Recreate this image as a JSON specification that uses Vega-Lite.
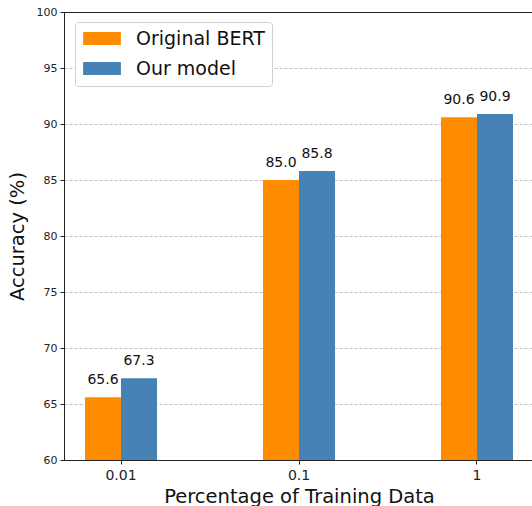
{
  "$schema": "https://vega.github.io/schema/vega-lite/v6.json",
  "autosize": "none",
  "padding": {"left": 64, "top": 12, "right": 0, "bottom": 46},
  "width": 470,
  "height": 448,
  "config": {
    "font": "DejaVu Sans",
    "view": {"stroke": "#222", "strokeWidth": 1},
    "axis": {"domainColor": "#222", "tickColor": "#222", "labelColor": "#222", "titleColor": "#111", "titleFontWeight": "normal"}
  },
  "data": {
    "values": [
      {"pct": "0.01", "model": "Original BERT", "acc": 65.6, "label": "65.6"},
      {"pct": "0.01", "model": "Our model", "acc": 67.3, "label": "67.3"},
      {"pct": "0.1", "model": "Original BERT", "acc": 85.0, "label": "85.0"},
      {"pct": "0.1", "model": "Our model", "acc": 85.8, "label": "85.8"},
      {"pct": "1", "model": "Original BERT", "acc": 90.6, "label": "90.6"},
      {"pct": "1", "model": "Our model", "acc": 90.9, "label": "90.9"}
    ]
  },
  "encoding": {
    "x": {
      "field": "pct", "type": "nominal", "sort": ["0.01", "0.1", "1"],
      "scale": {"paddingInner": 0.5955, "paddingOuter": 0.118},
      "axis": {"title": "Percentage of Training Data", "titleFontSize": 19.5, "titlePadding": 5, "labelFontSize": 14, "labelAngle": 0, "labelPadding": 4, "tickSize": 4, "grid": false}
    },
    "xOffset": {"field": "model", "type": "nominal", "sort": ["Original BERT", "Our model"], "scale": {"paddingInner": 0, "paddingOuter": 0}},
    "y": {
      "field": "acc", "type": "quantitative",
      "scale": {"domain": [60, 100], "nice": false, "zero": false},
      "axis": {
        "title": "Accuracy (%)", "titleFontSize": 19.5, "titlePadding": 9, "labelFontSize": 11,
        "values": [60, 65, 70, 75, 80, 85, 90, 95, 100], "tickSize": 4, "labelPadding": 3,
        "grid": true, "gridColor": "#b0b0b0", "gridWidth": 0.8,
        "gridDash": {"condition": {"test": "datum.value >= 100", "value": []}, "value": [3, 2]},
        "gridOpacity": {"condition": {"test": "datum.value >= 100", "value": 0}, "value": 1}
      }
    }
  },
  "layer": [
    {
      "mark": {"type": "bar", "clip": true},
      "encoding": {
        "y2": {"datum": 60},
        "color": {
          "field": "model", "type": "nominal", "sort": ["Original BERT", "Our model"],
          "scale": {"range": ["#ff8c00", "#4682b4"]},
          "legend": {
            "title": null, "orient": "none", "legendX": 11, "legendY": 10,
            "symbolType": "M-1.2,-0.93H4.2V0.93H-1.2Z", "symbolSize": 196, "symbolStrokeWidth": 0, "symbolOpacity": 1,
            "labelFontSize": 19, "labelColor": "#111", "labelOffset": 35, "rowPadding": 10,
            "strokeColor": "#d0d0d0", "cornerRadius": 3, "padding": 7, "fillColor": "white"
          }
        }
      }
    },
    {
      "mark": {"type": "text", "baseline": "bottom", "dy": -10, "fontSize": 14, "color": "#111"},
      "encoding": {"text": {"field": "label"}}
    }
  ]
}
